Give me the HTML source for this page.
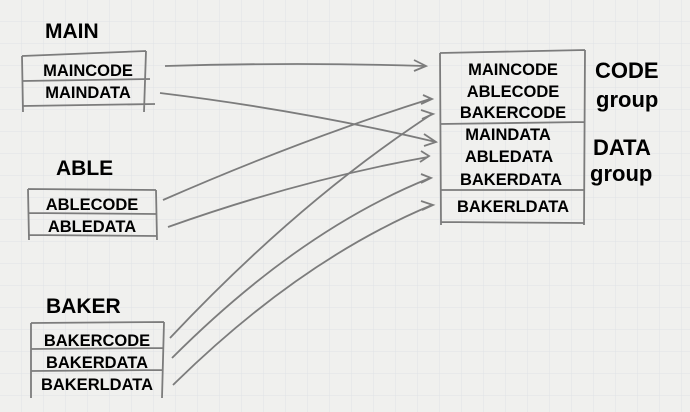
<!DOCTYPE html>
<html><head><meta charset="utf-8"><style>
html,body{margin:0;padding:0;background:#efefec;}
svg{display:block}
text{font-family:"Liberation Sans",sans-serif;font-weight:bold;fill:#000}
</style></head><body>
<svg width="690" height="412" viewBox="0 0 690 412" xmlns="http://www.w3.org/2000/svg">
<defs>
<pattern id="g" width="22" height="22" patternUnits="userSpaceOnUse">
<path d="M22 0V22M0 22H22" stroke="#dfe2e6" stroke-width="1" fill="none"/>
</pattern>
</defs>
<rect width="690" height="412" fill="#f0f0ee"/>
<rect width="690" height="412" fill="url(#g)"/>
<g stroke="#7c7c7c" stroke-width="1.8" fill="none">
<path d="M22 56 L146 51 M22 56 L23 112 M146 51 L144 112 M22 81 L150 79 M22 106 L155 104"/>
<path d="M28 189 L156 190 M28 189 L29 240 M156 190 L157 240 M29 213 L157 214 M29 235 L157 236"/>
<path d="M31 323 L164 322 M31 323 L31 398 M164 322 L162 398 M31 349 L163 348 M31 371 L163 370"/>
<path d="M440 53 L585 50 M440 53 L441 225 M585 50 L584 225 M440 124 L584 122 M441 190 L584 190 M441 222 L584 223"/>
<path d="M165 66 Q300 62 425 66"/>
<path d="M160 93 Q300 110 436 142"/>
<path d="M163 200 Q300 140 430 99"/>
<path d="M168 227 Q300 180 428 157"/>
<path d="M170 338 Q300 200 432 114"/>
<path d="M172 358 Q300 230 430 178"/>
<path d="M173 385 Q300 260 432 205"/>
<path d="M414 60 L426 66 L414 71"/>
<path d="M423 95 L432 99 L421 104"/>
<path d="M421 110 L433 114 L422 119"/>
<path d="M424 134 L436 142 L424 146"/>
<path d="M421 151 L429 156 L420 162"/>
<path d="M421 174 L431 178 L421 183"/>
<path d="M421 201 L433 205 L422 210"/>
</g>
<g font-size="21">
<text x="45" y="38">MAIN</text>
<text x="56" y="175">ABLE</text>
<text x="46" y="313">BAKER</text>
</g>
<g font-size="22">
<text x="595" y="78">CODE</text>
<text x="596" y="107">group</text>
<text x="593" y="155">DATA</text>
<text x="590" y="181">group</text>
</g>
<g font-size="16.5" text-anchor="middle">
<text x="88" y="76">MAINCODE</text>
<text x="88" y="98">MAINDATA</text>
<text x="92" y="210">ABLECODE</text>
<text x="92" y="232">ABLEDATA</text>
<text x="97" y="346">BAKERCODE</text>
<text x="97" y="368">BAKERDATA</text>
<text x="97" y="390">BAKERLDATA</text>
<text x="513" y="75">MAINCODE</text>
<text x="513" y="97">ABLECODE</text>
<text x="513" y="118">BAKERCODE</text>
<text x="508" y="140">MAINDATA</text>
<text x="509" y="162">ABLEDATA</text>
<text x="511" y="185">BAKERDATA</text>
<text x="513" y="212">BAKERLDATA</text>
</g>
</svg>
</body></html>
